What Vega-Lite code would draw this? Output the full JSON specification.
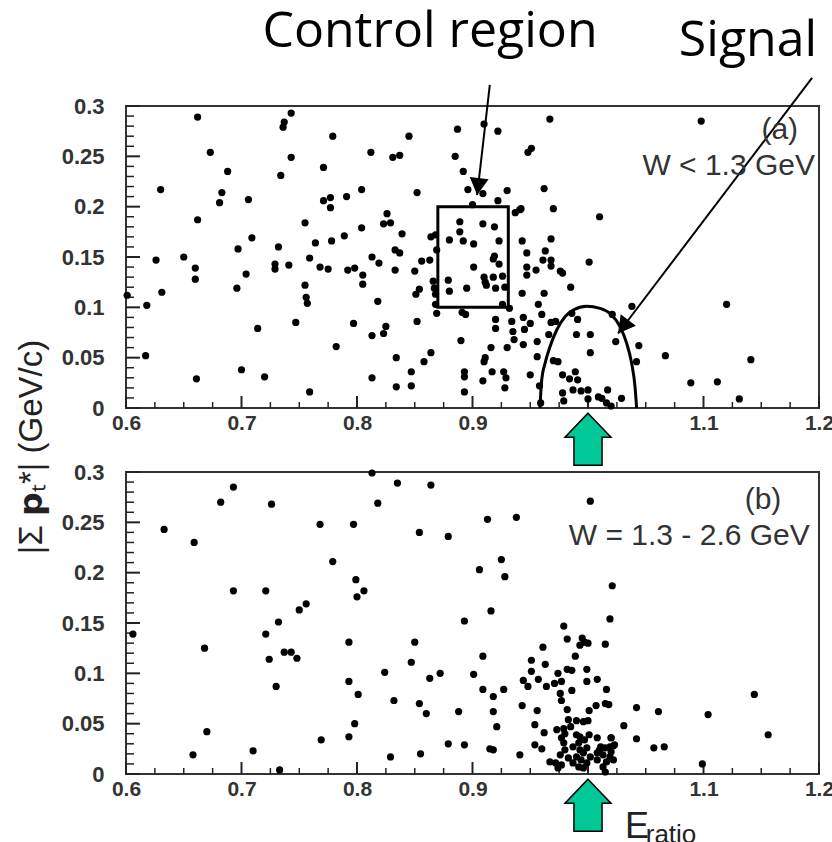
{
"$schema": "https://vega.github.io/schema/vega-lite/v6.json",
"padding": {"left": 14, "top": 6, "right": 0, "bottom": 0},
"background": "white",
"config": {"view": {"stroke": "#333", "strokeWidth": 2}, "font": "Liberation Sans"},
"bounds": "flush",
"spacing": 64,
"datasets": {
"xmaj": [{"x":0.6},{"x":0.7},{"x":0.8},{"x":0.9},{"x":1.0},{"x":1.1},{"x":1.2}],
"xmin": [{"x":0.625},{"x":0.65},{"x":0.675},{"x":0.725},{"x":0.75},{"x":0.775},{"x":0.825},{"x":0.85},{"x":0.875},{"x":0.925},{"x":0.95},{"x":0.975},{"x":1.025},{"x":1.05},{"x":1.075},{"x":1.125},{"x":1.15},{"x":1.175}],
"ymaj": [{"y":0},{"y":0.05},{"y":0.1},{"y":0.15},{"y":0.2},{"y":0.25},{"y":0.3}],
"ymin": [{"y":0.01},{"y":0.02},{"y":0.03},{"y":0.04},{"y":0.06},{"y":0.07},{"y":0.08},{"y":0.09},{"y":0.11},{"y":0.12},{"y":0.13},{"y":0.14},{"y":0.16},{"y":0.17},{"y":0.18},{"y":0.19},{"y":0.21},{"y":0.22},{"y":0.23},{"y":0.24},{"y":0.26},{"y":0.27},{"y":0.28},{"y":0.29}],
"top": [
{"x":0.601,"y":0.112},{"x":0.618,"y":0.102},{"x":0.617,"y":0.052},{"x":0.626,"y":0.147},{"x":0.630,"y":0.217},{"x":0.631,"y":0.115},{"x":0.650,"y":0.150},{"x":0.660,"y":0.139},{"x":0.660,"y":0.128},{"x":0.662,"y":0.289},{"x":0.662,"y":0.187},{"x":0.661,"y":0.029},{"x":0.673,"y":0.254},{"x":0.688,"y":0.235},{"x":0.683,"y":0.214},{"x":0.681,"y":0.204},{"x":0.696,"y":0.119},{"x":0.697,"y":0.158},{"x":0.704,"y":0.133},{"x":0.706,"y":0.207},{"x":0.709,"y":0.169},{"x":0.700,"y":0.038},{"x":0.714,"y":0.079},{"x":0.720,"y":0.031},{"x":0.729,"y":0.143},{"x":0.729,"y":0.138},{"x":0.732,"y":0.160},{"x":0.734,"y":0.231},{"x":0.736,"y":0.279},{"x":0.737,"y":0.284},{"x":0.743,"y":0.293},{"x":0.743,"y":0.249},{"x":0.741,"y":0.142},{"x":0.747,"y":0.085},{"x":0.755,"y":0.122},{"x":0.756,"y":0.110},{"x":0.757,"y":0.104},{"x":0.755,"y":0.184},{"x":0.759,"y":0.016},{"x":0.759,"y":0.149},{"x":0.764,"y":0.164},{"x":0.768,"y":0.140},{"x":0.771,"y":0.239},{"x":0.771,"y":0.206},{"x":0.775,"y":0.138},{"x":0.777,"y":0.209},{"x":0.777,"y":0.199},{"x":0.778,"y":0.166},{"x":0.779,"y":0.270},{"x":0.782,"y":0.061},{"x":0.789,"y":0.171},{"x":0.791,"y":0.210},{"x":0.792,"y":0.137},{"x":0.798,"y":0.139},{"x":0.797,"y":0.084},
{"x":0.804,"y":0.217},{"x":0.804,"y":0.179},{"x":0.805,"y":0.132},{"x":0.805,"y":0.123},{"x":0.812,"y":0.254},{"x":0.813,"y":0.150},{"x":0.813,"y":0.072},{"x":0.813,"y":0.030},{"x":0.818,"y":0.106},{"x":0.819,"y":0.144},{"x":0.823,"y":0.074},{"x":0.825,"y":0.081},{"x":0.823,"y":0.183},{"x":0.826,"y":0.193},{"x":0.829,"y":0.184},{"x":0.831,"y":0.249},{"x":0.837,"y":0.251},{"x":0.834,"y":0.050},{"x":0.834,"y":0.021},{"x":0.833,"y":0.137},{"x":0.833,"y":0.157},{"x":0.837,"y":0.154},{"x":0.839,"y":0.173},{"x":0.845,"y":0.270},{"x":0.847,"y":0.036},{"x":0.847,"y":0.022},{"x":0.850,"y":0.136},{"x":0.851,"y":0.113},{"x":0.852,"y":0.214},{"x":0.852,"y":0.086},{"x":0.854,"y":0.118},{"x":0.856,"y":0.146},{"x":0.858,"y":0.046},{"x":0.863,"y":0.147},{"x":0.864,"y":0.055},{"x":0.864,"y":0.170},{"x":0.866,"y":0.126},{"x":0.867,"y":0.119},{"x":0.868,"y":0.172},{"x":0.869,"y":0.157},{"x":0.868,"y":0.113},{"x":0.868,"y":0.103},{"x":0.869,"y":0.094},{"x":0.879,"y":0.127},{"x":0.880,"y":0.116},{"x":0.880,"y":0.167},{"x":0.885,"y":0.250},{"x":0.887,"y":0.277},{"x":0.889,"y":0.185},{"x":0.889,"y":0.175},{"x":0.892,"y":0.235},{"x":0.892,"y":0.166},{"x":0.890,"y":0.067},{"x":0.893,"y":0.036},{"x":0.893,"y":0.031},{"x":0.893,"y":0.016},{"x":0.891,"y":0.095},{"x":0.894,"y":0.093},{"x":0.895,"y":0.119},{"x":0.896,"y":0.217},{"x":0.900,"y":0.202},{"x":0.901,"y":0.163},{"x":0.901,"y":0.140},{"x":0.909,"y":0.027},{"x":0.909,"y":0.213},{"x":0.909,"y":0.183},{"x":0.910,"y":0.282},{"x":0.910,"y":0.130},{"x":0.911,"y":0.125},{"x":0.912,"y":0.122},{"x":0.910,"y":0.046},{"x":0.911,"y":0.050},{"x":0.916,"y":0.060},{"x":0.917,"y":0.036},{"x":0.918,"y":0.130},{"x":0.918,"y":0.148},{"x":0.919,"y":0.180},{"x":0.919,"y":0.151},{"x":0.922,"y":0.275},{"x":0.922,"y":0.206},{"x":0.923,"y":0.166},{"x":0.920,"y":0.119},{"x":0.920,"y":0.088},{"x":0.920,"y":0.079},{"x":0.923,"y":0.143},{"x":0.926,"y":0.131},{"x":0.928,"y":0.120},{"x":0.926,"y":0.103},{"x":0.927,"y":0.036},{"x":0.929,"y":0.030},{"x":0.928,"y":0.020},{"x":0.930,"y":0.216},{"x":0.930,"y":0.060},{"x":0.932,"y":0.099},{"x":0.934,"y":0.086},{"x":0.935,"y":0.076},{"x":0.936,"y":0.068},{"x":0.937,"y":0.194},{"x":0.941,"y":0.197},{"x":0.942,"y":0.198},{"x":0.943,"y":0.166},{"x":0.944,"y":0.090},{"x":0.943,"y":0.114},{"x":0.945,"y":0.078},{"x":0.944,"y":0.063},{"x":0.947,"y":0.154},{"x":0.947,"y":0.132},{"x":0.947,"y":0.140},{"x":0.948,"y":0.254},{"x":0.951,"y":0.258},{"x":0.950,"y":0.084},{"x":0.950,"y":0.033},{"x":0.955,"y":0.137},{"x":0.956,"y":0.066},{"x":0.956,"y":0.051},{"x":0.957,"y":0.103},{"x":0.960,"y":0.093},{"x":0.961,"y":0.147},{"x":0.962,"y":0.218},{"x":0.962,"y":0.114},{"x":0.963,"y":0.156},{"x":0.967,"y":0.287},{"x":0.968,"y":0.168},{"x":0.968,"y":0.147},{"x":0.968,"y":0.141},{"x":0.970,"y":0.198},{"x":0.966,"y":0.073},{"x":0.968,"y":0.085},{"x":0.970,"y":0.047},{"x":0.974,"y":0.046},{"x":0.976,"y":0.136},{"x":0.978,"y":0.134},{"x":0.985,"y":0.120},{"x":0.978,"y":0.033},{"x":0.984,"y":0.029},{"x":0.990,"y":0.073},{"x":0.991,"y":0.088},{"x":1.001,"y":0.145},{"x":1.002,"y":0.055},{"x":1.002,"y":0.073},{"x":0.978,"y":0.015},{"x":0.979,"y":0.007},{"x":0.987,"y":0.018},{"x":0.991,"y":0.028},{"x":0.994,"y":0.017},{"x":1.000,"y":0.009},{"x":1.000,"y":0.018},{"x":1.010,"y":0.190},{"x":0.959,"y":0.005},
{"x":0.986,"y":0.094},{"x":0.972,"y":0.086},{"x":0.989,"y":0.036},{"x":0.958,"y":0.022},{"x":1.009,"y":0.011},{"x":1.012,"y":0.0096},{"x":1.016,"y":0.005},{"x":1.029,"y":0.0096},
{"x":1.098,"y":0.285},{"x":1.120,"y":0.103},{"x":1.038,"y":0.101},{"x":1.021,"y":0.093},{"x":1.024,"y":0.066},{"x":1.044,"y":0.062},{"x":1.042,"y":0.046},{"x":1.067,"y":0.052},{"x":1.141,"y":0.048},{"x":1.089,"y":0.025},{"x":1.112,"y":0.026},{"x":1.131,"y":0.009},{"x":1.017,"y":0.018},{"x":1.020,"y":0.002}
],
"bot": [
{"x":0.606,"y":0.139},{"x":0.633,"y":0.243},{"x":0.658,"y":0.019},{"x":0.659,"y":0.230},{"x":0.668,"y":0.125},{"x":0.670,"y":0.042},{"x":0.682,"y":0.270},{"x":0.693,"y":0.285},{"x":0.693,"y":0.182},{"x":0.710,"y":0.023},{"x":0.721,"y":0.182},{"x":0.721,"y":0.139},{"x":0.724,"y":0.114},{"x":0.726,"y":0.268},{"x":0.730,"y":0.087},{"x":0.732,"y":0.151},{"x":0.733,"y":0.004},{"x":0.737,"y":0.121},{"x":0.743,"y":0.121},{"x":0.748,"y":0.115},{"x":0.750,"y":0.163},{"x":0.756,"y":0.169},{"x":0.768,"y":0.248},{"x":0.769,"y":0.034},{"x":0.779,"y":0.211},{"x":0.793,"y":0.131},{"x":0.793,"y":0.092},{"x":0.793,"y":0.037},{"x":0.797,"y":0.248},{"x":0.799,"y":0.193},{"x":0.800,"y":0.176},{"x":0.801,"y":0.079},{"x":0.798,"y":0.050},
{"x":0.813,"y":0.299},{"x":0.835,"y":0.289},{"x":0.864,"y":0.287},{"x":0.818,"y":0.269},{"x":0.854,"y":0.240},{"x":0.879,"y":0.236},{"x":0.913,"y":0.253},{"x":0.938,"y":0.255},{"x":1.002,"y":0.271},{"x":0.925,"y":0.213},{"x":0.906,"y":0.203},{"x":0.928,"y":0.196},{"x":0.806,"y":0.182},{"x":0.916,"y":0.162},{"x":0.893,"y":0.152},{"x":0.850,"y":0.131},{"x":0.847,"y":0.111},{"x":0.824,"y":0.101},{"x":0.863,"y":0.095},{"x":0.872,"y":0.100},{"x":0.901,"y":0.099},{"x":0.909,"y":0.117},{"x":0.832,"y":0.073},{"x":0.854,"y":0.070},{"x":0.860,"y":0.060},{"x":0.888,"y":0.062},{"x":0.909,"y":0.084},{"x":0.918,"y":0.077},{"x":0.927,"y":0.084},{"x":0.918,"y":0.062},{"x":0.921,"y":0.047},{"x":0.879,"y":0.030},{"x":0.893,"y":0.029},{"x":0.915,"y":0.025},{"x":0.918,"y":0.024},{"x":0.829,"y":0.017},{"x":0.855,"y":0.020},{"x":0.941,"y":0.019},{"x":0.943,"y":0.068},{"x":0.944,"y":0.093},{"x":0.948,"y":0.087},
{"x":0.979,"y":0.147},{"x":1.019,"y":0.154},{"x":0.982,"y":0.134},{"x":0.995,"y":0.135},{"x":0.997,"y":0.131},{"x":0.993,"y":0.128},{"x":1.000,"y":0.130},{"x":1.015,"y":0.129},{"x":0.961,"y":0.126},{"x":0.989,"y":0.117},{"x":0.951,"y":0.113},{"x":0.963,"y":0.109},{"x":0.951,"y":0.102},{"x":0.982,"y":0.104},{"x":0.986,"y":0.103},{"x":0.999,"y":0.104},{"x":0.974,"y":0.100},{"x":0.957,"y":0.094},{"x":0.977,"y":0.092},{"x":0.971,"y":0.090},{"x":0.999,"y":0.092},{"x":1.008,"y":0.094},{"x":0.964,"y":0.087},{"x":0.986,"y":0.083},{"x":0.976,"y":0.080},{"x":0.977,"y":0.073},{"x":1.016,"y":0.084},{"x":1.015,"y":0.070},{"x":1.018,"y":0.069},{"x":1.007,"y":0.068},{"x":1.042,"y":0.066},{"x":1.061,"y":0.062},{"x":0.982,"y":0.064},{"x":1.001,"y":0.063},{"x":0.956,"y":0.063},{"x":0.954,"y":0.049},{"x":1.031,"y":0.048},{"x":1.042,"y":0.035},{"x":1.057,"y":0.026},{"x":0.962,"y":0.041},{"x":0.973,"y":0.044},{"x":0.954,"y":0.029},{"x":0.960,"y":0.025},
{"x":0.983,"y":0.054},{"x":0.990,"y":0.053},{"x":0.996,"y":0.052},{"x":1.000,"y":0.053},{"x":0.979,"y":0.045},{"x":0.980,"y":0.040},{"x":0.977,"y":0.036},{"x":0.979,"y":0.031},{"x":0.980,"y":0.024},{"x":0.976,"y":0.019},{"x":0.967,"y":0.012},{"x":0.972,"y":0.011},{"x":0.977,"y":0.009},{"x":0.974,"y":0.006},{"x":0.990,"y":0.039},{"x":0.993,"y":0.037},{"x":0.997,"y":0.034},{"x":0.992,"y":0.031},{"x":0.987,"y":0.027},{"x":0.993,"y":0.024},{"x":0.999,"y":0.026},{"x":0.996,"y":0.021},{"x":0.990,"y":0.017},{"x":0.994,"y":0.014},{"x":0.992,"y":0.007},{"x":0.999,"y":0.011},{"x":1.008,"y":0.036},{"x":1.020,"y":0.036},{"x":1.011,"y":0.027},{"x":1.015,"y":0.026},{"x":1.019,"y":0.027},{"x":1.023,"y":0.029},{"x":1.008,"y":0.021},{"x":1.013,"y":0.019},{"x":1.019,"y":0.017},{"x":1.022,"y":0.014},{"x":1.016,"y":0.012},{"x":1.008,"y":0.014},{"x":1.015,"y":0.002},{"x":0.985,"y":0.047},{"x":1.001,"y":0.039},{"x":0.983,"y":0.016},{"x":1.002,"y":0.017},{"x":0.987,"y":0.011},{"x":0.996,"y":0.006},{"x":1.013,"y":0.007},{"x":1.020,"y":0.022},
{"x":1.021,"y":0.187},{"x":1.066,"y":0.027},{"x":1.104,"y":0.059},{"x":1.144,"y":0.079},{"x":1.156,"y":0.039},{"x":1.099,"y":0.010},{"x":1.020,"y":0.036},{"x":1.022,"y":0.028},{"x":1.010,"y":0.024}
],
"ell": [
{"i":0,"x":0.9584,"y":0},{"i":1,"x":0.9599,"y":0.0278},{"i":2,"x":0.9628,"y":0.0444},{"i":3,"x":0.9671,"y":0.0609},{"i":4,"x":0.9729,"y":0.0775},{"i":5,"x":0.9801,"y":0.0907},{"i":6,"x":0.9873,"y":0.0973},{"i":7,"x":0.9988,"y":0.101},{"i":8,"x":1.0104,"y":0.099},{"i":9,"x":1.019,"y":0.094},{"i":10,"x":1.0277,"y":0.0808},{"i":11,"x":1.0335,"y":0.0642},{"i":12,"x":1.0378,"y":0.0444},{"i":13,"x":1.0407,"y":0.0212},{"i":14,"x":1.0421,"y":0}
]
},
"vconcat": [
{
"width": 693, "height": 302,
"layer": [
{"data": {"name": "xmaj"}, "mark": {"type": "rule", "color": "#222", "strokeWidth": 2},
 "encoding": {
  "x": {"field": "x", "type": "quantitative", "scale": {"domain": [0.6, 1.2], "nice": false, "zero": false}, "axis": {"orient": "bottom", "title": null, "values": [0.6,0.7,0.8,0.9,1,1.1,1.2], "domain": false, "grid": false, "ticks": false, "tickSize": 0, "labelPadding": 4, "labelFlush": false, "labelOverlap": false, "labelExpr": "format(datum.value, '~g')", "labelFont": "Liberation Sans", "labelFontSize": 21, "labelFontWeight": "bold", "labelColor": "#333"}},
  "y": {"datum": 0, "type": "quantitative", "scale": {"domain": [0, 0.3], "nice": false, "zero": false}, "axis": {"orient": "left", "title": null, "values": [0,0.05,0.1,0.15,0.2,0.25,0.3], "domain": false, "grid": false, "ticks": false, "tickSize": 0, "labelPadding": 22, "labelFlush": false, "labelOverlap": false, "labelExpr": "format(datum.value, '~g')", "labelFont": "Liberation Sans", "labelFontSize": 22, "labelFontWeight": "bold", "labelColor": "#333"}},
  "y2": {"datum": 0.0119}}},
{"data": {"name": "xmin"}, "mark": {"type": "rule", "color": "#222", "strokeWidth": 1.5},
 "encoding": {
  "x": {"field": "x", "type": "quantitative", "scale": {"domain": [0.6, 1.2], "nice": false, "zero": false}, "axis": {"orient": "bottom", "title": null, "values": [0.6,0.7,0.8,0.9,1,1.1,1.2], "domain": false, "grid": false, "ticks": false, "tickSize": 0, "labelPadding": 4, "labelFlush": false, "labelOverlap": false, "labelExpr": "format(datum.value, '~g')", "labelFont": "Liberation Sans", "labelFontSize": 21, "labelFontWeight": "bold", "labelColor": "#333"}},
  "y": {"datum": 0, "type": "quantitative", "scale": {"domain": [0, 0.3], "nice": false, "zero": false}, "axis": {"orient": "left", "title": null, "values": [0,0.05,0.1,0.15,0.2,0.25,0.3], "domain": false, "grid": false, "ticks": false, "tickSize": 0, "labelPadding": 22, "labelFlush": false, "labelOverlap": false, "labelExpr": "format(datum.value, '~g')", "labelFont": "Liberation Sans", "labelFontSize": 22, "labelFontWeight": "bold", "labelColor": "#333"}},
  "y2": {"datum": 0.006}}},
{"data": {"name": "ymaj"}, "mark": {"type": "rule", "color": "#222", "strokeWidth": 2},
 "encoding": {
  "x": {"datum": 0.6, "type": "quantitative", "scale": {"domain": [0.6, 1.2], "nice": false, "zero": false}, "axis": {"orient": "bottom", "title": null, "values": [0.6,0.7,0.8,0.9,1,1.1,1.2], "domain": false, "grid": false, "ticks": false, "tickSize": 0, "labelPadding": 4, "labelFlush": false, "labelOverlap": false, "labelExpr": "format(datum.value, '~g')", "labelFont": "Liberation Sans", "labelFontSize": 21, "labelFontWeight": "bold", "labelColor": "#333"}},
  "x2": {"datum": 0.6121},
  "y": {"field": "y", "type": "quantitative", "scale": {"domain": [0, 0.3], "nice": false, "zero": false}, "axis": {"orient": "left", "title": null, "values": [0,0.05,0.1,0.15,0.2,0.25,0.3], "domain": false, "grid": false, "ticks": false, "tickSize": 0, "labelPadding": 22, "labelFlush": false, "labelOverlap": false, "labelExpr": "format(datum.value, '~g')", "labelFont": "Liberation Sans", "labelFontSize": 22, "labelFontWeight": "bold", "labelColor": "#333"}}}},
{"data": {"name": "ymin"}, "mark": {"type": "rule", "color": "#222", "strokeWidth": 1.5},
 "encoding": {
  "x": {"datum": 0.6, "type": "quantitative", "scale": {"domain": [0.6, 1.2], "nice": false, "zero": false}, "axis": {"orient": "bottom", "title": null, "values": [0.6,0.7,0.8,0.9,1,1.1,1.2], "domain": false, "grid": false, "ticks": false, "tickSize": 0, "labelPadding": 4, "labelFlush": false, "labelOverlap": false, "labelExpr": "format(datum.value, '~g')", "labelFont": "Liberation Sans", "labelFontSize": 21, "labelFontWeight": "bold", "labelColor": "#333"}},
  "x2": {"datum": 0.6069},
  "y": {"field": "y", "type": "quantitative", "scale": {"domain": [0, 0.3], "nice": false, "zero": false}, "axis": {"orient": "left", "title": null, "values": [0,0.05,0.1,0.15,0.2,0.25,0.3], "domain": false, "grid": false, "ticks": false, "tickSize": 0, "labelPadding": 22, "labelFlush": false, "labelOverlap": false, "labelExpr": "format(datum.value, '~g')", "labelFont": "Liberation Sans", "labelFontSize": 22, "labelFontWeight": "bold", "labelColor": "#333"}}}},
{"data": {"name": "top"}, "mark": {"type": "circle", "size": 52, "color": "#000", "opacity": 1},
 "encoding": {
  "x": {"field": "x", "type": "quantitative", "scale": {"domain": [0.6, 1.2], "nice": false, "zero": false}, "axis": {"orient": "bottom", "title": null, "values": [0.6,0.7,0.8,0.9,1,1.1,1.2], "domain": false, "grid": false, "ticks": false, "tickSize": 0, "labelPadding": 4, "labelFlush": false, "labelOverlap": false, "labelExpr": "format(datum.value, '~g')", "labelFont": "Liberation Sans", "labelFontSize": 21, "labelFontWeight": "bold", "labelColor": "#333"}},
  "y": {"field": "y", "type": "quantitative", "scale": {"domain": [0, 0.3], "nice": false, "zero": false}, "axis": {"orient": "left", "title": null, "values": [0,0.05,0.1,0.15,0.2,0.25,0.3], "domain": false, "grid": false, "ticks": false, "tickSize": 0, "labelPadding": 22, "labelFlush": false, "labelOverlap": false, "labelExpr": "format(datum.value, '~g')", "labelFont": "Liberation Sans", "labelFontSize": 22, "labelFontWeight": "bold", "labelColor": "#333"}}}},
{"data": {"values": [{"x": 0.87, "x2": 0.931, "y": 0.1, "y2": 0.2}]},
 "mark": {"type": "rect", "fillOpacity": 0, "stroke": "#000", "strokeWidth": 3},
 "encoding": {
  "x": {"field": "x", "type": "quantitative", "scale": {"domain": [0.6, 1.2], "nice": false, "zero": false}, "axis": {"orient": "bottom", "title": null, "values": [0.6,0.7,0.8,0.9,1,1.1,1.2], "domain": false, "grid": false, "ticks": false, "tickSize": 0, "labelPadding": 4, "labelFlush": false, "labelOverlap": false, "labelExpr": "format(datum.value, '~g')", "labelFont": "Liberation Sans", "labelFontSize": 21, "labelFontWeight": "bold", "labelColor": "#333"}},
  "x2": {"field": "x2"},
  "y": {"field": "y", "type": "quantitative", "scale": {"domain": [0, 0.3], "nice": false, "zero": false}, "axis": {"orient": "left", "title": null, "values": [0,0.05,0.1,0.15,0.2,0.25,0.3], "domain": false, "grid": false, "ticks": false, "tickSize": 0, "labelPadding": 22, "labelFlush": false, "labelOverlap": false, "labelExpr": "format(datum.value, '~g')", "labelFont": "Liberation Sans", "labelFontSize": 22, "labelFontWeight": "bold", "labelColor": "#333"}},
  "y2": {"field": "y2"}}},
{"data": {"name": "ell"}, "mark": {"type": "line", "color": "#000", "strokeWidth": 3, "interpolate": "monotone"},
 "encoding": {
  "x": {"field": "x", "type": "quantitative", "scale": {"domain": [0.6, 1.2], "nice": false, "zero": false}, "axis": {"orient": "bottom", "title": null, "values": [0.6,0.7,0.8,0.9,1,1.1,1.2], "domain": false, "grid": false, "ticks": false, "tickSize": 0, "labelPadding": 4, "labelFlush": false, "labelOverlap": false, "labelExpr": "format(datum.value, '~g')", "labelFont": "Liberation Sans", "labelFontSize": 21, "labelFontWeight": "bold", "labelColor": "#333"}},
  "y": {"field": "y", "type": "quantitative", "scale": {"domain": [0, 0.3], "nice": false, "zero": false}, "axis": {"orient": "left", "title": null, "values": [0,0.05,0.1,0.15,0.2,0.25,0.3], "domain": false, "grid": false, "ticks": false, "tickSize": 0, "labelPadding": 22, "labelFlush": false, "labelOverlap": false, "labelExpr": "format(datum.value, '~g')", "labelFont": "Liberation Sans", "labelFontSize": 22, "labelFontWeight": "bold", "labelColor": "#333"}},
  "order": {"field": "i", "type": "quantitative"}}},
{"data": {"values": [{"x": 0.915, "y": 0.321, "x2": 0.904, "y2": 0.2115}, {"x": 1.194, "y": 0.328, "x2": 1.026, "y2": 0.074}]},
 "mark": {"type": "rule", "color": "#000", "strokeWidth": 2},
 "encoding": {
  "x": {"field": "x", "type": "quantitative", "scale": {"domain": [0.6, 1.2], "nice": false, "zero": false}, "axis": {"orient": "bottom", "title": null, "values": [0.6,0.7,0.8,0.9,1,1.1,1.2], "domain": false, "grid": false, "ticks": false, "tickSize": 0, "labelPadding": 4, "labelFlush": false, "labelOverlap": false, "labelExpr": "format(datum.value, '~g')", "labelFont": "Liberation Sans", "labelFontSize": 21, "labelFontWeight": "bold", "labelColor": "#333"}},
  "x2": {"field": "x2"},
  "y": {"field": "y", "type": "quantitative", "scale": {"domain": [0, 0.3], "nice": false, "zero": false}, "axis": {"orient": "left", "title": null, "values": [0,0.05,0.1,0.15,0.2,0.25,0.3], "domain": false, "grid": false, "ticks": false, "tickSize": 0, "labelPadding": 22, "labelFlush": false, "labelOverlap": false, "labelExpr": "format(datum.value, '~g')", "labelFont": "Liberation Sans", "labelFontSize": 22, "labelFontWeight": "bold", "labelColor": "#333"}},
  "y2": {"field": "y2"}}},
{"data": {"values": [{"x": 0.904, "y": 0.2115}]},
 "mark": {"type": "point", "shape": "M0,0 L-0.95,-1.7 L0.95,-1.7 Z", "size": 400, "angle": 7, "filled": true, "color": "#000", "opacity": 1},
 "encoding": {
  "x": {"field": "x", "type": "quantitative", "scale": {"domain": [0.6, 1.2], "nice": false, "zero": false}, "axis": {"orient": "bottom", "title": null, "values": [0.6,0.7,0.8,0.9,1,1.1,1.2], "domain": false, "grid": false, "ticks": false, "tickSize": 0, "labelPadding": 4, "labelFlush": false, "labelOverlap": false, "labelExpr": "format(datum.value, '~g')", "labelFont": "Liberation Sans", "labelFontSize": 21, "labelFontWeight": "bold", "labelColor": "#333"}},
  "y": {"field": "y", "type": "quantitative", "scale": {"domain": [0, 0.3], "nice": false, "zero": false}, "axis": {"orient": "left", "title": null, "values": [0,0.05,0.1,0.15,0.2,0.25,0.3], "domain": false, "grid": false, "ticks": false, "tickSize": 0, "labelPadding": 22, "labelFlush": false, "labelOverlap": false, "labelExpr": "format(datum.value, '~g')", "labelFont": "Liberation Sans", "labelFontSize": 22, "labelFontWeight": "bold", "labelColor": "#333"}}}},
{"data": {"values": [{"x": 1.026, "y": 0.074}]},
 "mark": {"type": "point", "shape": "M0,0 L-0.95,-1.7 L0.95,-1.7 Z", "size": 400, "angle": 37, "filled": true, "color": "#000", "opacity": 1},
 "encoding": {
  "x": {"field": "x", "type": "quantitative", "scale": {"domain": [0.6, 1.2], "nice": false, "zero": false}, "axis": {"orient": "bottom", "title": null, "values": [0.6,0.7,0.8,0.9,1,1.1,1.2], "domain": false, "grid": false, "ticks": false, "tickSize": 0, "labelPadding": 4, "labelFlush": false, "labelOverlap": false, "labelExpr": "format(datum.value, '~g')", "labelFont": "Liberation Sans", "labelFontSize": 21, "labelFontWeight": "bold", "labelColor": "#333"}},
  "y": {"field": "y", "type": "quantitative", "scale": {"domain": [0, 0.3], "nice": false, "zero": false}, "axis": {"orient": "left", "title": null, "values": [0,0.05,0.1,0.15,0.2,0.25,0.3], "domain": false, "grid": false, "ticks": false, "tickSize": 0, "labelPadding": 22, "labelFlush": false, "labelOverlap": false, "labelExpr": "format(datum.value, '~g')", "labelFont": "Liberation Sans", "labelFontSize": 22, "labelFontWeight": "bold", "labelColor": "#333"}}}},
{"data": {"values": [{"x": 1, "y": -0.031}]},
 "mark": {"type": "point", "shape": "M0,-1 L0.885,-0.08 L0.54,-0.08 L0.54,1 L-0.54,1 L-0.54,-0.08 L-0.885,-0.08 Z", "size": 2704, "filled": true, "fill": "#00C896", "stroke": "#000", "strokeWidth": 1.5, "opacity": 1},
 "encoding": {
  "x": {"field": "x", "type": "quantitative", "scale": {"domain": [0.6, 1.2], "nice": false, "zero": false}, "axis": {"orient": "bottom", "title": null, "values": [0.6,0.7,0.8,0.9,1,1.1,1.2], "domain": false, "grid": false, "ticks": false, "tickSize": 0, "labelPadding": 4, "labelFlush": false, "labelOverlap": false, "labelExpr": "format(datum.value, '~g')", "labelFont": "Liberation Sans", "labelFontSize": 21, "labelFontWeight": "bold", "labelColor": "#333"}},
  "y": {"field": "y", "type": "quantitative", "scale": {"domain": [0, 0.3], "nice": false, "zero": false}, "axis": {"orient": "left", "title": null, "values": [0,0.05,0.1,0.15,0.2,0.25,0.3], "domain": false, "grid": false, "ticks": false, "tickSize": 0, "labelPadding": 22, "labelFlush": false, "labelOverlap": false, "labelExpr": "format(datum.value, '~g')", "labelFont": "Liberation Sans", "labelFontSize": 22, "labelFontWeight": "bold", "labelColor": "#333"}}}},
{"data": {"values": [{"x": 0.8632, "y": 0.3585, "t": "Control region"}, {"x": 1.1385, "y": 0.3495, "t": "Signal"}]},
 "mark": {"type": "text", "font": "Open Sans", "fontSize": 50, "color": "#000", "align": "center", "baseline": "alphabetic"},
 "encoding": {
  "x": {"field": "x", "type": "quantitative", "scale": {"domain": [0.6, 1.2], "nice": false, "zero": false}, "axis": {"orient": "bottom", "title": null, "values": [0.6,0.7,0.8,0.9,1,1.1,1.2], "domain": false, "grid": false, "ticks": false, "tickSize": 0, "labelPadding": 4, "labelFlush": false, "labelOverlap": false, "labelExpr": "format(datum.value, '~g')", "labelFont": "Liberation Sans", "labelFontSize": 21, "labelFontWeight": "bold", "labelColor": "#333"}},
  "y": {"field": "y", "type": "quantitative", "scale": {"domain": [0, 0.3], "nice": false, "zero": false}, "axis": {"orient": "left", "title": null, "values": [0,0.05,0.1,0.15,0.2,0.25,0.3], "domain": false, "grid": false, "ticks": false, "tickSize": 0, "labelPadding": 22, "labelFlush": false, "labelOverlap": false, "labelExpr": "format(datum.value, '~g')", "labelFont": "Liberation Sans", "labelFontSize": 22, "labelFontWeight": "bold", "labelColor": "#333"}},
  "text": {"field": "t"}}},
{"data": {"values": [{"x": 1.166, "y": 0.267, "t": "(a)"}]},
 "mark": {"type": "text", "font": "Liberation Sans", "fontSize": 30, "color": "#333", "align": "center", "baseline": "alphabetic"},
 "encoding": {
  "x": {"field": "x", "type": "quantitative", "scale": {"domain": [0.6, 1.2], "nice": false, "zero": false}, "axis": {"orient": "bottom", "title": null, "values": [0.6,0.7,0.8,0.9,1,1.1,1.2], "domain": false, "grid": false, "ticks": false, "tickSize": 0, "labelPadding": 4, "labelFlush": false, "labelOverlap": false, "labelExpr": "format(datum.value, '~g')", "labelFont": "Liberation Sans", "labelFontSize": 21, "labelFontWeight": "bold", "labelColor": "#333"}},
  "y": {"field": "y", "type": "quantitative", "scale": {"domain": [0, 0.3], "nice": false, "zero": false}, "axis": {"orient": "left", "title": null, "values": [0,0.05,0.1,0.15,0.2,0.25,0.3], "domain": false, "grid": false, "ticks": false, "tickSize": 0, "labelPadding": 22, "labelFlush": false, "labelOverlap": false, "labelExpr": "format(datum.value, '~g')", "labelFont": "Liberation Sans", "labelFontSize": 22, "labelFontWeight": "bold", "labelColor": "#333"}},
  "text": {"field": "t"}}},
{"data": {"values": [{"x": 1.1965, "y": 0.2314, "t": "W < 1.3 GeV"}]},
 "mark": {"type": "text", "font": "Liberation Sans", "fontSize": 30, "color": "#333", "align": "right", "baseline": "alphabetic"},
 "encoding": {
  "x": {"field": "x", "type": "quantitative", "scale": {"domain": [0.6, 1.2], "nice": false, "zero": false}, "axis": {"orient": "bottom", "title": null, "values": [0.6,0.7,0.8,0.9,1,1.1,1.2], "domain": false, "grid": false, "ticks": false, "tickSize": 0, "labelPadding": 4, "labelFlush": false, "labelOverlap": false, "labelExpr": "format(datum.value, '~g')", "labelFont": "Liberation Sans", "labelFontSize": 21, "labelFontWeight": "bold", "labelColor": "#333"}},
  "y": {"field": "y", "type": "quantitative", "scale": {"domain": [0, 0.3], "nice": false, "zero": false}, "axis": {"orient": "left", "title": null, "values": [0,0.05,0.1,0.15,0.2,0.25,0.3], "domain": false, "grid": false, "ticks": false, "tickSize": 0, "labelPadding": 22, "labelFlush": false, "labelOverlap": false, "labelExpr": "format(datum.value, '~g')", "labelFont": "Liberation Sans", "labelFontSize": 22, "labelFontWeight": "bold", "labelColor": "#333"}},
  "text": {"field": "t"}}},
{"data": {"values": [{"x": 0.5186, "y": -0.0387, "t": "|Σ 𝗽ₜ*| (GeV/c)"}]},
 "mark": {"type": "text", "font": "Liberation Sans", "fontSize": 33, "color": "#222", "align": "center", "baseline": "middle", "angle": -90},
 "encoding": {
  "x": {"field": "x", "type": "quantitative", "scale": {"domain": [0.6, 1.2], "nice": false, "zero": false}, "axis": {"orient": "bottom", "title": null, "values": [0.6,0.7,0.8,0.9,1,1.1,1.2], "domain": false, "grid": false, "ticks": false, "tickSize": 0, "labelPadding": 4, "labelFlush": false, "labelOverlap": false, "labelExpr": "format(datum.value, '~g')", "labelFont": "Liberation Sans", "labelFontSize": 21, "labelFontWeight": "bold", "labelColor": "#333"}},
  "y": {"field": "y", "type": "quantitative", "scale": {"domain": [0, 0.3], "nice": false, "zero": false}, "axis": {"orient": "left", "title": null, "values": [0,0.05,0.1,0.15,0.2,0.25,0.3], "domain": false, "grid": false, "ticks": false, "tickSize": 0, "labelPadding": 22, "labelFlush": false, "labelOverlap": false, "labelExpr": "format(datum.value, '~g')", "labelFont": "Liberation Sans", "labelFontSize": 22, "labelFontWeight": "bold", "labelColor": "#333"}},
  "text": {"field": "t"}}}
]
},
{
"width": 693, "height": 302,
"layer": [
{"data": {"name": "xmaj"}, "mark": {"type": "rule", "color": "#222", "strokeWidth": 2},
 "encoding": {
  "x": {"field": "x", "type": "quantitative", "scale": {"domain": [0.6, 1.2], "nice": false, "zero": false}, "axis": {"orient": "bottom", "title": null, "values": [0.6,0.7,0.8,0.9,1,1.1,1.2], "domain": false, "grid": false, "ticks": false, "tickSize": 0, "labelPadding": 4, "labelFlush": false, "labelOverlap": false, "labelExpr": "format(datum.value, '~g')", "labelFont": "Liberation Sans", "labelFontSize": 21, "labelFontWeight": "bold", "labelColor": "#333"}},
  "y": {"datum": 0, "type": "quantitative", "scale": {"domain": [0, 0.3], "nice": false, "zero": false}, "axis": {"orient": "left", "title": null, "values": [0,0.05,0.1,0.15,0.2,0.25,0.3], "domain": false, "grid": false, "ticks": false, "tickSize": 0, "labelPadding": 22, "labelFlush": false, "labelOverlap": false, "labelExpr": "format(datum.value, '~g')", "labelFont": "Liberation Sans", "labelFontSize": 22, "labelFontWeight": "bold", "labelColor": "#333"}},
  "y2": {"datum": 0.0119}}},
{"data": {"name": "xmin"}, "mark": {"type": "rule", "color": "#222", "strokeWidth": 1.5},
 "encoding": {
  "x": {"field": "x", "type": "quantitative", "scale": {"domain": [0.6, 1.2], "nice": false, "zero": false}, "axis": {"orient": "bottom", "title": null, "values": [0.6,0.7,0.8,0.9,1,1.1,1.2], "domain": false, "grid": false, "ticks": false, "tickSize": 0, "labelPadding": 4, "labelFlush": false, "labelOverlap": false, "labelExpr": "format(datum.value, '~g')", "labelFont": "Liberation Sans", "labelFontSize": 21, "labelFontWeight": "bold", "labelColor": "#333"}},
  "y": {"datum": 0, "type": "quantitative", "scale": {"domain": [0, 0.3], "nice": false, "zero": false}, "axis": {"orient": "left", "title": null, "values": [0,0.05,0.1,0.15,0.2,0.25,0.3], "domain": false, "grid": false, "ticks": false, "tickSize": 0, "labelPadding": 22, "labelFlush": false, "labelOverlap": false, "labelExpr": "format(datum.value, '~g')", "labelFont": "Liberation Sans", "labelFontSize": 22, "labelFontWeight": "bold", "labelColor": "#333"}},
  "y2": {"datum": 0.006}}},
{"data": {"name": "ymaj"}, "mark": {"type": "rule", "color": "#222", "strokeWidth": 2},
 "encoding": {
  "x": {"datum": 0.6, "type": "quantitative", "scale": {"domain": [0.6, 1.2], "nice": false, "zero": false}, "axis": {"orient": "bottom", "title": null, "values": [0.6,0.7,0.8,0.9,1,1.1,1.2], "domain": false, "grid": false, "ticks": false, "tickSize": 0, "labelPadding": 4, "labelFlush": false, "labelOverlap": false, "labelExpr": "format(datum.value, '~g')", "labelFont": "Liberation Sans", "labelFontSize": 21, "labelFontWeight": "bold", "labelColor": "#333"}},
  "x2": {"datum": 0.6121},
  "y": {"field": "y", "type": "quantitative", "scale": {"domain": [0, 0.3], "nice": false, "zero": false}, "axis": {"orient": "left", "title": null, "values": [0,0.05,0.1,0.15,0.2,0.25,0.3], "domain": false, "grid": false, "ticks": false, "tickSize": 0, "labelPadding": 22, "labelFlush": false, "labelOverlap": false, "labelExpr": "format(datum.value, '~g')", "labelFont": "Liberation Sans", "labelFontSize": 22, "labelFontWeight": "bold", "labelColor": "#333"}}}},
{"data": {"name": "ymin"}, "mark": {"type": "rule", "color": "#222", "strokeWidth": 1.5},
 "encoding": {
  "x": {"datum": 0.6, "type": "quantitative", "scale": {"domain": [0.6, 1.2], "nice": false, "zero": false}, "axis": {"orient": "bottom", "title": null, "values": [0.6,0.7,0.8,0.9,1,1.1,1.2], "domain": false, "grid": false, "ticks": false, "tickSize": 0, "labelPadding": 4, "labelFlush": false, "labelOverlap": false, "labelExpr": "format(datum.value, '~g')", "labelFont": "Liberation Sans", "labelFontSize": 21, "labelFontWeight": "bold", "labelColor": "#333"}},
  "x2": {"datum": 0.6069},
  "y": {"field": "y", "type": "quantitative", "scale": {"domain": [0, 0.3], "nice": false, "zero": false}, "axis": {"orient": "left", "title": null, "values": [0,0.05,0.1,0.15,0.2,0.25,0.3], "domain": false, "grid": false, "ticks": false, "tickSize": 0, "labelPadding": 22, "labelFlush": false, "labelOverlap": false, "labelExpr": "format(datum.value, '~g')", "labelFont": "Liberation Sans", "labelFontSize": 22, "labelFontWeight": "bold", "labelColor": "#333"}}}},
{"data": {"name": "bot"}, "mark": {"type": "circle", "size": 52, "color": "#000", "opacity": 1},
 "encoding": {
  "x": {"field": "x", "type": "quantitative", "scale": {"domain": [0.6, 1.2], "nice": false, "zero": false}, "axis": {"orient": "bottom", "title": null, "values": [0.6,0.7,0.8,0.9,1,1.1,1.2], "domain": false, "grid": false, "ticks": false, "tickSize": 0, "labelPadding": 4, "labelFlush": false, "labelOverlap": false, "labelExpr": "format(datum.value, '~g')", "labelFont": "Liberation Sans", "labelFontSize": 21, "labelFontWeight": "bold", "labelColor": "#333"}},
  "y": {"field": "y", "type": "quantitative", "scale": {"domain": [0, 0.3], "nice": false, "zero": false}, "axis": {"orient": "left", "title": null, "values": [0,0.05,0.1,0.15,0.2,0.25,0.3], "domain": false, "grid": false, "ticks": false, "tickSize": 0, "labelPadding": 22, "labelFlush": false, "labelOverlap": false, "labelExpr": "format(datum.value, '~g')", "labelFont": "Liberation Sans", "labelFontSize": 22, "labelFontWeight": "bold", "labelColor": "#333"}}}},
{"data": {"values": [{"x": 1, "y": -0.031}]},
 "mark": {"type": "point", "shape": "M0,-1 L0.885,-0.08 L0.54,-0.08 L0.54,1 L-0.54,1 L-0.54,-0.08 L-0.885,-0.08 Z", "size": 2704, "filled": true, "fill": "#00C896", "stroke": "#000", "strokeWidth": 1.5, "opacity": 1},
 "encoding": {
  "x": {"field": "x", "type": "quantitative", "scale": {"domain": [0.6, 1.2], "nice": false, "zero": false}, "axis": {"orient": "bottom", "title": null, "values": [0.6,0.7,0.8,0.9,1,1.1,1.2], "domain": false, "grid": false, "ticks": false, "tickSize": 0, "labelPadding": 4, "labelFlush": false, "labelOverlap": false, "labelExpr": "format(datum.value, '~g')", "labelFont": "Liberation Sans", "labelFontSize": 21, "labelFontWeight": "bold", "labelColor": "#333"}},
  "y": {"field": "y", "type": "quantitative", "scale": {"domain": [0, 0.3], "nice": false, "zero": false}, "axis": {"orient": "left", "title": null, "values": [0,0.05,0.1,0.15,0.2,0.25,0.3], "domain": false, "grid": false, "ticks": false, "tickSize": 0, "labelPadding": 22, "labelFlush": false, "labelOverlap": false, "labelExpr": "format(datum.value, '~g')", "labelFont": "Liberation Sans", "labelFontSize": 22, "labelFontWeight": "bold", "labelColor": "#333"}}}},
{"data": {"values": [{"x": 1.1515, "y": 0.263, "t": "(b)"}]},
 "mark": {"type": "text", "font": "Liberation Sans", "fontSize": 30, "color": "#333", "align": "center", "baseline": "alphabetic"},
 "encoding": {
  "x": {"field": "x", "type": "quantitative", "scale": {"domain": [0.6, 1.2], "nice": false, "zero": false}, "axis": {"orient": "bottom", "title": null, "values": [0.6,0.7,0.8,0.9,1,1.1,1.2], "domain": false, "grid": false, "ticks": false, "tickSize": 0, "labelPadding": 4, "labelFlush": false, "labelOverlap": false, "labelExpr": "format(datum.value, '~g')", "labelFont": "Liberation Sans", "labelFontSize": 21, "labelFontWeight": "bold", "labelColor": "#333"}},
  "y": {"field": "y", "type": "quantitative", "scale": {"domain": [0, 0.3], "nice": false, "zero": false}, "axis": {"orient": "left", "title": null, "values": [0,0.05,0.1,0.15,0.2,0.25,0.3], "domain": false, "grid": false, "ticks": false, "tickSize": 0, "labelPadding": 22, "labelFlush": false, "labelOverlap": false, "labelExpr": "format(datum.value, '~g')", "labelFont": "Liberation Sans", "labelFontSize": 22, "labelFontWeight": "bold", "labelColor": "#333"}},
  "text": {"field": "t"}}},
{"data": {"values": [{"x": 1.192, "y": 0.2274, "t": "W = 1.3 - 2.6 GeV"}]},
 "mark": {"type": "text", "font": "Liberation Sans", "fontSize": 30, "color": "#333", "align": "right", "baseline": "alphabetic"},
 "encoding": {
  "x": {"field": "x", "type": "quantitative", "scale": {"domain": [0.6, 1.2], "nice": false, "zero": false}, "axis": {"orient": "bottom", "title": null, "values": [0.6,0.7,0.8,0.9,1,1.1,1.2], "domain": false, "grid": false, "ticks": false, "tickSize": 0, "labelPadding": 4, "labelFlush": false, "labelOverlap": false, "labelExpr": "format(datum.value, '~g')", "labelFont": "Liberation Sans", "labelFontSize": 21, "labelFontWeight": "bold", "labelColor": "#333"}},
  "y": {"field": "y", "type": "quantitative", "scale": {"domain": [0, 0.3], "nice": false, "zero": false}, "axis": {"orient": "left", "title": null, "values": [0,0.05,0.1,0.15,0.2,0.25,0.3], "domain": false, "grid": false, "ticks": false, "tickSize": 0, "labelPadding": 22, "labelFlush": false, "labelOverlap": false, "labelExpr": "format(datum.value, '~g')", "labelFont": "Liberation Sans", "labelFontSize": 22, "labelFontWeight": "bold", "labelColor": "#333"}},
  "text": {"field": "t"}}},
{"data": {"values": [{"x": 1.032, "y": -0.0636, "t": "E"}]},
 "mark": {"type": "text", "font": "Liberation Sans", "fontSize": 36, "color": "#222", "align": "left", "baseline": "alphabetic"},
 "encoding": {
  "x": {"field": "x", "type": "quantitative", "scale": {"domain": [0.6, 1.2], "nice": false, "zero": false}, "axis": {"orient": "bottom", "title": null, "values": [0.6,0.7,0.8,0.9,1,1.1,1.2], "domain": false, "grid": false, "ticks": false, "tickSize": 0, "labelPadding": 4, "labelFlush": false, "labelOverlap": false, "labelExpr": "format(datum.value, '~g')", "labelFont": "Liberation Sans", "labelFontSize": 21, "labelFontWeight": "bold", "labelColor": "#333"}},
  "y": {"field": "y", "type": "quantitative", "scale": {"domain": [0, 0.3], "nice": false, "zero": false}, "axis": {"orient": "left", "title": null, "values": [0,0.05,0.1,0.15,0.2,0.25,0.3], "domain": false, "grid": false, "ticks": false, "tickSize": 0, "labelPadding": 22, "labelFlush": false, "labelOverlap": false, "labelExpr": "format(datum.value, '~g')", "labelFont": "Liberation Sans", "labelFontSize": 22, "labelFontWeight": "bold", "labelColor": "#333"}},
  "text": {"field": "t"}}},
{"data": {"values": [{"x": 1.050, "y": -0.0685, "t": "ratio"}]},
 "mark": {"type": "text", "font": "Liberation Sans", "fontSize": 26, "color": "#222", "align": "left", "baseline": "alphabetic"},
 "encoding": {
  "x": {"field": "x", "type": "quantitative", "scale": {"domain": [0.6, 1.2], "nice": false, "zero": false}, "axis": {"orient": "bottom", "title": null, "values": [0.6,0.7,0.8,0.9,1,1.1,1.2], "domain": false, "grid": false, "ticks": false, "tickSize": 0, "labelPadding": 4, "labelFlush": false, "labelOverlap": false, "labelExpr": "format(datum.value, '~g')", "labelFont": "Liberation Sans", "labelFontSize": 21, "labelFontWeight": "bold", "labelColor": "#333"}},
  "y": {"field": "y", "type": "quantitative", "scale": {"domain": [0, 0.3], "nice": false, "zero": false}, "axis": {"orient": "left", "title": null, "values": [0,0.05,0.1,0.15,0.2,0.25,0.3], "domain": false, "grid": false, "ticks": false, "tickSize": 0, "labelPadding": 22, "labelFlush": false, "labelOverlap": false, "labelExpr": "format(datum.value, '~g')", "labelFont": "Liberation Sans", "labelFontSize": 22, "labelFontWeight": "bold", "labelColor": "#333"}},
  "text": {"field": "t"}}}
]
}
]
}
